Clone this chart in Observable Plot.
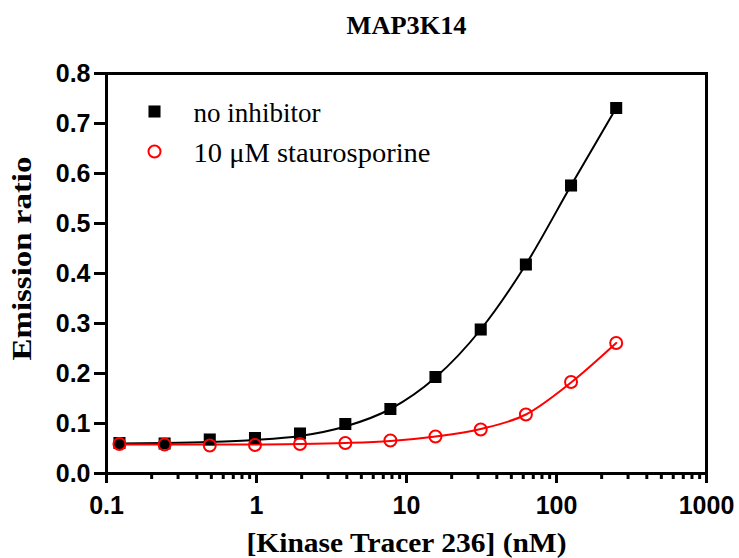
<!DOCTYPE html>
<html>
<head>
<meta charset="utf-8">
<script src="https://cdn.jsdelivr.net/npm/d3@7"></script>
<script src="https://cdn.jsdelivr.net/npm/@observablehq/plot@0.6"></script>
<style>
  html, body { margin: 0; padding: 0; background: #fff; }
</style>
</head>
<body>
<div id="chart"></div>
<script>
const title = "MAP3K14";
const xLabel = "[Kinase Tracer 236] (nM)";
const yLabel = "Emission ratio";
const seriesNames = ["no inhibitor", "10 μM staurosporine"];

const conc = [0.122, 0.244, 0.488, 0.977, 1.95, 3.91, 7.81, 15.6, 31.25, 62.5, 125, 250];
const noInhibitor = [0.061, 0.060, 0.068, 0.071, 0.080, 0.099, 0.129, 0.193, 0.288, 0.418, 0.576, 0.731];
const staurosporine = [0.059, 0.058, 0.056, 0.057, 0.059, 0.061, 0.066, 0.074, 0.088, 0.118, 0.183, 0.261];
// fitted curve values read at the same concentrations
const fitNoInhibitor = [0.060, 0.061, 0.063, 0.067, 0.075, 0.094, 0.129, 0.192, 0.288, 0.418, 0.576, 0.731];
const fitStaurosporine = [0.058, 0.058, 0.058, 0.058, 0.059, 0.061, 0.065, 0.074, 0.089, 0.118, 0.182, 0.261];

const xTicks = [0.1, 1, 10, 100, 1000];
const xMinorTicks = [];
for (const d of [0.1, 1, 10, 100]) for (const m of [2,3,4,5,6,7,8,9]) xMinorTicks.push(+(d*m).toPrecision(3));
const yTicks = [0, 0.1, 0.2, 0.3, 0.4, 0.5, 0.6, 0.7, 0.8];

const pts1 = conc.map((c, i) => ({x: c, y: noInhibitor[i]}));
const pts2 = conc.map((c, i) => ({x: c, y: staurosporine[i]}));
const fit1 = conc.map((c, i) => ({x: c, y: fitNoInhibitor[i]}));
const fit2 = conc.map((c, i) => ({x: c, y: fitStaurosporine[i]}));

const sans = "Liberation Sans, Arial, sans-serif";
const serif = "Liberation Serif, Times New Roman, serif";

const chart = Plot.plot({
  width: 739,
  height: 558,
  marginLeft: 106,
  marginRight: 33,
  marginTop: 73,
  marginBottom: 85,
  x: {type: "log", domain: [0.1, 1000]},
  y: {domain: [0, 0.8]},
  marks: [
    Plot.line(fit1, {x: "x", y: "y", stroke: "black", strokeWidth: 2, curve: "monotone-x"}),
    Plot.line(fit2, {x: "x", y: "y", stroke: "#ff0000", strokeWidth: 2, curve: "monotone-x"}),
    Plot.dot(pts1, {x: "x", y: "y", symbol: "square", r: 6.8, fill: "black", stroke: "none"}),
    Plot.dot(pts2, {x: "x", y: "y", symbol: "circle", r: 6, fill: "none", stroke: "#ff0000", strokeWidth: 2}),
    Plot.frame({stroke: "black", strokeWidth: 3}),
    Plot.axisY({ticks: yTicks, tickFormat: d3.format(".1f"), tickSize: 12, tickPadding: 4,
      strokeWidth: 3, label: null, fontSize: 25, fontWeight: "bold", fontFamily: sans}),
    Plot.axisX({ticks: xTicks, tickFormat: d => String(d), tickSize: 10, tickPadding: 13,
      strokeWidth: 3, label: null, fontSize: 25, fontWeight: "bold", fontFamily: sans}),
    Plot.axisX({ticks: xMinorTicks, tickSize: 6, strokeWidth: 3, text: null, label: null}),
    // legend
    Plot.dot([seriesNames[0]], {frameAnchor: "top-left", dx: 48, dy: 38, symbol: "square", r: 6.8, fill: "black"}),
    Plot.dot([seriesNames[1]], {frameAnchor: "top-left", dx: 48, dy: 78, symbol: "circle", r: 6, fill: "none", stroke: "#ff0000", strokeWidth: 2}),
    Plot.text([seriesNames[0]], {text: d => d, frameAnchor: "top-left", dx: 87, dy: 40, textAnchor: "start", lineAnchor: "middle",
      fontSize: 27, fontFamily: serif, fill: "black"}),
    Plot.text([seriesNames[1]], {text: d => d, frameAnchor: "top-left", dx: 87, dy: 80, textAnchor: "start", lineAnchor: "middle",
      fontSize: 27, fontFamily: serif, fill: "black"}),
    // title and axis labels
    Plot.text([title], {text: d => d, frameAnchor: "top", dy: -48, lineAnchor: "middle", fontSize: 25, fontWeight: "bold", fontFamily: serif, fill: "black"}),
    Plot.text([xLabel], {text: d => d, frameAnchor: "bottom", dy: 70, lineAnchor: "middle", fontSize: 27, fontWeight: "bold", fontFamily: serif, fill: "black"}),
    Plot.text([yLabel], {text: d => d, frameAnchor: "left", dx: -84, dy: -15, rotate: -90, textAnchor: "middle", lineAnchor: "middle",
      fontSize: 28, fontWeight: "bold", fontFamily: serif, fill: "black"})
  ]
});
document.getElementById("chart").appendChild(chart);

// stretch texts to the widths seen in the reference
const targetWidths = new Map([[title, 120], [xLabel, 320], [yLabel, 204], [seriesNames[0], 127], [seriesNames[1], 237]]);
d3.select(chart).selectAll("text").each(function() {
  const t = this.textContent;
  if (targetWidths.has(t)) {
    this.setAttribute("textLength", targetWidths.get(t));
    this.setAttribute("lengthAdjust", "spacingAndGlyphs");
  }
});
</script>
</body>
</html>
